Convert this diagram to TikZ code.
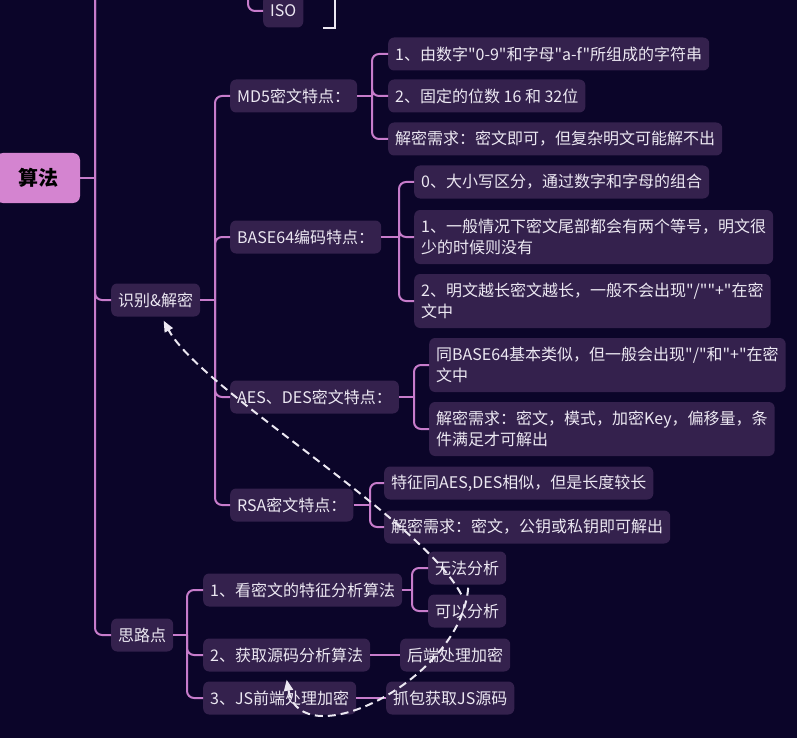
\documentclass[tikz,border=0pt]{standalone}
\usepackage{fontspec}
\setmainfont{Noto Sans CJK SC}[Ligatures=TeXOff]
\usetikzlibrary{arrows.meta,calc}
\definecolor{bgc}{HTML}{0B0529}
\definecolor{boxc}{HTML}{34214D}
\definecolor{linec}{HTML}{C77CCB}
\definecolor{rootc}{HTML}{D484D0}
\definecolor{txtc}{HTML}{ECE8F2}
\tikzset{
  box/.style={fill=boxc, rounded corners=6pt, inner xsep=7pt, inner ysep=2pt,
    minimum height=33pt, text=txtc, anchor=west,
    font=\fontsize{16}{21}\selectfont},
  twobox/.style={box, align=left, minimum height=54pt},
  rootbox/.style={fill=rootc, rounded corners=7pt, minimum width=84pt,
    minimum height=50pt, text=black, font=\fontsize{20}{24}\selectfont\bfseries},
  conn/.style={draw=linec, line width=2pt, rounded corners=7pt},
  bracket/.style={draw=txtc, line width=2pt},
  rel/.style={draw=txtc, line width=2pt, dash pattern=on 8pt off 5pt,
    -{Triangle[width=9pt,length=11pt]}},
}
\begin{document}
\begin{tikzpicture}[x=1pt,y=-1pt]
\fill[bgc] (0,0) rectangle (797,738);
\useasboundingbox (0,0) rectangle (797,738);
\clip (0,0) rectangle (797,738);

% nodes
\node[rootbox] (root) at (38,178) {算法};
\node[box] (iso) at (263,11) {ISO};
\node[box] (sbjm) at (111,300) {识别\&解密};
\node[box] (slp) at (111,635) {思路点};

\node[box] (md5) at (230,96) {MD5密文特点：};
\node[box] (b64) at (230,237) {BASE64编码特点：};
\node[box] (aes) at (230,397) {AES、DES密文特点：};
\node[box] (rsa) at (230,505) {RSA密文特点：};

\node[box] (md5a) at (388,54) {1、由数字"0-9"和字母"a-f"所组成的字符串};
\node[box] (md5b) at (388,96) {2、固定的位数 16 和 32位};
\node[box] (md5c) at (388,139) {解密需求：密文即可，但复杂明文可能解不出};

\node[box] (b64a) at (414,182) {0、大小写区分，通过数字和字母的组合};
\node[twobox] (b64b) at (414,237) {1、一般情况下密文尾部都会有两个等号，明文很\\少的时候则没有};
\node[twobox] (b64c) at (414,301) {2、明文越长密文越长，一般不会出现"/""+"在密\\文中};

\node[twobox] (aesa) at (429,365) {同BASE64基本类似，但一般会出现"/"和"+"在密\\文中};
\node[twobox] (aesb) at (429,429) {解密需求：密文，模式，加密Key，偏移量，条\\件满足才可解出};

\node[box] (rsaa) at (384,483) {特征同AES,DES相似，但是长度较长};
\node[box] (rsab) at (384,527) {解密需求：密文，公钥或私钥即可解出};

\node[box] (s1) at (203,590) {1、看密文的特征分析算法};
\node[box] (s2) at (203,655) {2、获取源码分析算法};
\node[box] (s3) at (203,698) {3、JS前端处理加密};

\node[box] (wf) at (428,568) {无法分析};
\node[box] (ky) at (428,611) {可以分析};
\node[box] (hd) at (400,655) {后端处理加密};
\node[box] (zb) at (386,698) {抓包获取JS源码};

% top fragments
\coordinate (isotop) at (248,-8);
\draw[conn] (isotop) |- (iso.west);
\coordinate (brA) at (335,-8);
\coordinate (brB) at (323,28);
\draw[bracket] (brA) |- (brB);

% main spine
\coordinate (mtop) at (95,-8);
\draw[conn] (root.east) -- (root.east -| mtop);
\draw[conn] (mtop) |- (sbjm.west);
\draw[conn] (mtop) |- (slp.west);

% groups
\coordinate (jA) at ([xshift=-15pt]md5.west |- sbjm.east);
\draw[conn] (sbjm.east) -- (jA);
\foreach \c in {md5,b64,aes,rsa} \draw[conn] (jA) |- (\c.west);

\coordinate (jM) at ([xshift=-16pt]md5a.west |- md5.east);
\draw[conn] (md5.east) -- (jM);
\foreach \c in {md5a,md5b,md5c} \draw[conn] (jM) |- (\c.west);

\coordinate (jB) at ([xshift=-15pt]b64a.west |- b64.east);
\draw[conn] (b64.east) -- (jB);
\foreach \c in {b64a,b64b,b64c} \draw[conn] (jB) |- (\c.west);

\coordinate (jE) at ([xshift=-15pt]aesa.west |- aes.east);
\draw[conn] (aes.east) -- (jE);
\foreach \c in {aesa,aesb} \draw[conn] (jE) |- (\c.west);

\coordinate (jR) at ([xshift=-14pt]rsaa.west |- rsa.east);
\draw[conn] (rsa.east) -- (jR);
\foreach \c in {rsaa,rsab} \draw[conn] (jR) |- (\c.west);

\coordinate (jS) at ([xshift=-16pt]s1.west |- slp.east);
\draw[conn] (slp.east) -- (jS);
\foreach \c in {s1,s2,s3} \draw[conn] (jS) |- (\c.west);

\coordinate (jK) at ([xshift=-16pt]wf.west |- s1.east);
\draw[conn] (s1.east) -- (jK);
\foreach \c in {wf,ky} \draw[conn] (jK) |- (\c.west);

\draw[conn] (s2.east) -- (hd.west);
\draw[conn] (s3.east) -- (zb.west);

% relationship arrows
\draw[rel] ([xshift=-6pt]ky.north) .. controls +(-40,-76) and +(37,69) .. ([shift={(8pt,-4pt)}]sbjm.south);
\draw[rel] ([shift={(1pt,-3pt)}]wf.south) .. controls +(-7,92) and +(14,79) .. ([yshift=-8pt]s2.south);
\end{tikzpicture}
\end{document}
